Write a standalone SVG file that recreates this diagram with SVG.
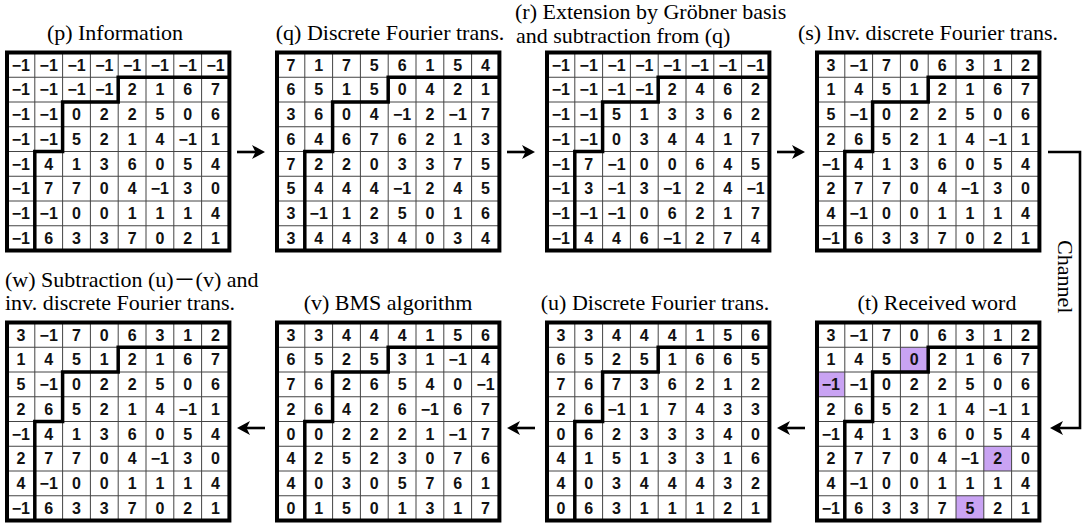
<svg xmlns="http://www.w3.org/2000/svg" xmlns:xlink="http://www.w3.org/1999/xlink" width="1086" height="527" viewBox="0 0 1086 527">
<style>
.title{font-family:"Liberation Serif","Noto Sans CJK JP",serif;font-size:22px;fill:#000}
.mid{text-anchor:middle}
.c{font-family:"Liberation Sans",Arial,sans-serif;font-weight:bold;font-size:16px;text-anchor:middle;fill:#111}
.thin{fill:none;stroke:#444;stroke-width:1}
.thick{fill:none;stroke:#000;stroke-width:3.5}
.hl{fill:#c9a3f3}
.arrow{fill:none;stroke:#000;stroke-width:2.6}
</style>
<defs>
<marker id="ah" markerUnits="userSpaceOnUse" markerWidth="15" markerHeight="15" refX="4" refY="7.5" orient="auto">
<path d="M0,0.5 L13,7.5 L0,14.5 L3.5,7.5 Z" fill="#000"/>
</marker>
<rect id="bg" x="0" y="0" width="222.4" height="198" fill="#fff"/>
<g id="lines">
<path class="thin" d="M27.8 0V198M55.6 0V198M83.4 0V198M111.2 0V198M139 0V198M166.8 0V198M194.6 0V198M0 24.75H222.4M0 49.5H222.4M0 74.25H222.4M0 99H222.4M0 123.75H222.4M0 148.5H222.4M0 173.25H222.4"/>
<path class="thick" d="M222.4 24.75H111.2V49.5H55.6V99H27.8V198"/>
<rect x="0" y="0" width="222.4" height="198" fill="none" stroke="#000" stroke-width="4"/>
</g>
</defs>
<rect x="0" y="0" width="1086" height="527" fill="#fff"/>

<g id="node-p">
<text class="title mid" x="115" y="40">(p) Information</text>
<g transform="translate(7,52.5)">
<use xlink:href="#bg"/><use xlink:href="#lines"/>
<g class="c">
<text y="18.2"><tspan x="13.9">−1</tspan><tspan x="41.7">−1</tspan><tspan x="69.5">−1</tspan><tspan x="97.3">−1</tspan><tspan x="125.1">−1</tspan><tspan x="152.9">−1</tspan><tspan x="180.7">−1</tspan><tspan x="208.5">−1</tspan></text>
<text y="42.9"><tspan x="13.9">−1</tspan><tspan x="41.7">−1</tspan><tspan x="69.5">−1</tspan><tspan x="97.3">−1</tspan><tspan x="125.1">2</tspan><tspan x="152.9">1</tspan><tspan x="180.7">6</tspan><tspan x="208.5">7</tspan></text>
<text y="67.7"><tspan x="13.9">−1</tspan><tspan x="41.7">−1</tspan><tspan x="69.5">0</tspan><tspan x="97.3">2</tspan><tspan x="125.1">2</tspan><tspan x="152.9">5</tspan><tspan x="180.7">0</tspan><tspan x="208.5">6</tspan></text>
<text y="92.5"><tspan x="13.9">−1</tspan><tspan x="41.7">−1</tspan><tspan x="69.5">5</tspan><tspan x="97.3">2</tspan><tspan x="125.1">1</tspan><tspan x="152.9">4</tspan><tspan x="180.7">−1</tspan><tspan x="208.5">1</tspan></text>
<text y="117.2"><tspan x="13.9">−1</tspan><tspan x="41.7">4</tspan><tspan x="69.5">1</tspan><tspan x="97.3">3</tspan><tspan x="125.1">6</tspan><tspan x="152.9">0</tspan><tspan x="180.7">5</tspan><tspan x="208.5">4</tspan></text>
<text y="141.9"><tspan x="13.9">−1</tspan><tspan x="41.7">7</tspan><tspan x="69.5">7</tspan><tspan x="97.3">0</tspan><tspan x="125.1">4</tspan><tspan x="152.9">−1</tspan><tspan x="180.7">3</tspan><tspan x="208.5">0</tspan></text>
<text y="166.7"><tspan x="13.9">−1</tspan><tspan x="41.7">−1</tspan><tspan x="69.5">0</tspan><tspan x="97.3">0</tspan><tspan x="125.1">1</tspan><tspan x="152.9">1</tspan><tspan x="180.7">1</tspan><tspan x="208.5">4</tspan></text>
<text y="191.4"><tspan x="13.9">−1</tspan><tspan x="41.7">6</tspan><tspan x="69.5">3</tspan><tspan x="97.3">3</tspan><tspan x="125.1">7</tspan><tspan x="152.9">0</tspan><tspan x="180.7">2</tspan><tspan x="208.5">1</tspan></text>
</g>
</g>
</g>

<g id="node-q">
<text class="title mid" x="390" y="40">(q) Discrete Fourier trans.</text>
<g transform="translate(277,52.5)">
<use xlink:href="#bg"/><use xlink:href="#lines"/>
<g class="c">
<text y="18.2"><tspan x="13.9">7</tspan><tspan x="41.7">1</tspan><tspan x="69.5">7</tspan><tspan x="97.3">5</tspan><tspan x="125.1">6</tspan><tspan x="152.9">1</tspan><tspan x="180.7">5</tspan><tspan x="208.5">4</tspan></text>
<text y="42.9"><tspan x="13.9">6</tspan><tspan x="41.7">5</tspan><tspan x="69.5">1</tspan><tspan x="97.3">5</tspan><tspan x="125.1">0</tspan><tspan x="152.9">4</tspan><tspan x="180.7">2</tspan><tspan x="208.5">1</tspan></text>
<text y="67.7"><tspan x="13.9">3</tspan><tspan x="41.7">6</tspan><tspan x="69.5">0</tspan><tspan x="97.3">4</tspan><tspan x="125.1">−1</tspan><tspan x="152.9">2</tspan><tspan x="180.7">−1</tspan><tspan x="208.5">7</tspan></text>
<text y="92.5"><tspan x="13.9">6</tspan><tspan x="41.7">4</tspan><tspan x="69.5">6</tspan><tspan x="97.3">7</tspan><tspan x="125.1">6</tspan><tspan x="152.9">2</tspan><tspan x="180.7">1</tspan><tspan x="208.5">3</tspan></text>
<text y="117.2"><tspan x="13.9">7</tspan><tspan x="41.7">2</tspan><tspan x="69.5">2</tspan><tspan x="97.3">0</tspan><tspan x="125.1">3</tspan><tspan x="152.9">3</tspan><tspan x="180.7">7</tspan><tspan x="208.5">5</tspan></text>
<text y="141.9"><tspan x="13.9">5</tspan><tspan x="41.7">4</tspan><tspan x="69.5">4</tspan><tspan x="97.3">4</tspan><tspan x="125.1">−1</tspan><tspan x="152.9">2</tspan><tspan x="180.7">4</tspan><tspan x="208.5">5</tspan></text>
<text y="166.7"><tspan x="13.9">3</tspan><tspan x="41.7">−1</tspan><tspan x="69.5">1</tspan><tspan x="97.3">2</tspan><tspan x="125.1">5</tspan><tspan x="152.9">0</tspan><tspan x="180.7">1</tspan><tspan x="208.5">6</tspan></text>
<text y="191.4"><tspan x="13.9">3</tspan><tspan x="41.7">4</tspan><tspan x="69.5">4</tspan><tspan x="97.3">3</tspan><tspan x="125.1">4</tspan><tspan x="152.9">0</tspan><tspan x="180.7">3</tspan><tspan x="208.5">4</tspan></text>
</g>
</g>
</g>

<g id="node-r">
<text class="title" font-size="21"><tspan x="515" y="19">(r) Extension by Gröbner basis</tspan><tspan x="516" y="42.5">and subtraction from (q)</tspan></text>
<g transform="translate(547,52.5)">
<use xlink:href="#bg"/><use xlink:href="#lines"/>
<g class="c">
<text y="18.2"><tspan x="13.9">−1</tspan><tspan x="41.7">−1</tspan><tspan x="69.5">−1</tspan><tspan x="97.3">−1</tspan><tspan x="125.1">−1</tspan><tspan x="152.9">−1</tspan><tspan x="180.7">−1</tspan><tspan x="208.5">−1</tspan></text>
<text y="42.9"><tspan x="13.9">−1</tspan><tspan x="41.7">−1</tspan><tspan x="69.5">−1</tspan><tspan x="97.3">−1</tspan><tspan x="125.1">2</tspan><tspan x="152.9">4</tspan><tspan x="180.7">6</tspan><tspan x="208.5">2</tspan></text>
<text y="67.7"><tspan x="13.9">−1</tspan><tspan x="41.7">−1</tspan><tspan x="69.5">5</tspan><tspan x="97.3">1</tspan><tspan x="125.1">3</tspan><tspan x="152.9">3</tspan><tspan x="180.7">6</tspan><tspan x="208.5">2</tspan></text>
<text y="92.5"><tspan x="13.9">−1</tspan><tspan x="41.7">−1</tspan><tspan x="69.5">0</tspan><tspan x="97.3">3</tspan><tspan x="125.1">4</tspan><tspan x="152.9">4</tspan><tspan x="180.7">1</tspan><tspan x="208.5">7</tspan></text>
<text y="117.2"><tspan x="13.9">−1</tspan><tspan x="41.7">7</tspan><tspan x="69.5">−1</tspan><tspan x="97.3">0</tspan><tspan x="125.1">0</tspan><tspan x="152.9">6</tspan><tspan x="180.7">4</tspan><tspan x="208.5">5</tspan></text>
<text y="141.9"><tspan x="13.9">−1</tspan><tspan x="41.7">3</tspan><tspan x="69.5">−1</tspan><tspan x="97.3">3</tspan><tspan x="125.1">−1</tspan><tspan x="152.9">2</tspan><tspan x="180.7">4</tspan><tspan x="208.5">−1</tspan></text>
<text y="166.7"><tspan x="13.9">−1</tspan><tspan x="41.7">−1</tspan><tspan x="69.5">−1</tspan><tspan x="97.3">0</tspan><tspan x="125.1">6</tspan><tspan x="152.9">2</tspan><tspan x="180.7">1</tspan><tspan x="208.5">7</tspan></text>
<text y="191.4"><tspan x="13.9">−1</tspan><tspan x="41.7">4</tspan><tspan x="69.5">4</tspan><tspan x="97.3">6</tspan><tspan x="125.1">−1</tspan><tspan x="152.9">2</tspan><tspan x="180.7">7</tspan><tspan x="208.5">4</tspan></text>
</g>
</g>
</g>

<g id="node-s">
<text class="title mid" x="928" y="40">(s) Inv. discrete Fourier trans.</text>
<g transform="translate(817,52.5)">
<use xlink:href="#bg"/><use xlink:href="#lines"/>
<g class="c">
<text y="18.2"><tspan x="13.9">3</tspan><tspan x="41.7">−1</tspan><tspan x="69.5">7</tspan><tspan x="97.3">0</tspan><tspan x="125.1">6</tspan><tspan x="152.9">3</tspan><tspan x="180.7">1</tspan><tspan x="208.5">2</tspan></text>
<text y="42.9"><tspan x="13.9">1</tspan><tspan x="41.7">4</tspan><tspan x="69.5">5</tspan><tspan x="97.3">1</tspan><tspan x="125.1">2</tspan><tspan x="152.9">1</tspan><tspan x="180.7">6</tspan><tspan x="208.5">7</tspan></text>
<text y="67.7"><tspan x="13.9">5</tspan><tspan x="41.7">−1</tspan><tspan x="69.5">0</tspan><tspan x="97.3">2</tspan><tspan x="125.1">2</tspan><tspan x="152.9">5</tspan><tspan x="180.7">0</tspan><tspan x="208.5">6</tspan></text>
<text y="92.5"><tspan x="13.9">2</tspan><tspan x="41.7">6</tspan><tspan x="69.5">5</tspan><tspan x="97.3">2</tspan><tspan x="125.1">1</tspan><tspan x="152.9">4</tspan><tspan x="180.7">−1</tspan><tspan x="208.5">1</tspan></text>
<text y="117.2"><tspan x="13.9">−1</tspan><tspan x="41.7">4</tspan><tspan x="69.5">1</tspan><tspan x="97.3">3</tspan><tspan x="125.1">6</tspan><tspan x="152.9">0</tspan><tspan x="180.7">5</tspan><tspan x="208.5">4</tspan></text>
<text y="141.9"><tspan x="13.9">2</tspan><tspan x="41.7">7</tspan><tspan x="69.5">7</tspan><tspan x="97.3">0</tspan><tspan x="125.1">4</tspan><tspan x="152.9">−1</tspan><tspan x="180.7">3</tspan><tspan x="208.5">0</tspan></text>
<text y="166.7"><tspan x="13.9">4</tspan><tspan x="41.7">−1</tspan><tspan x="69.5">0</tspan><tspan x="97.3">0</tspan><tspan x="125.1">1</tspan><tspan x="152.9">1</tspan><tspan x="180.7">1</tspan><tspan x="208.5">4</tspan></text>
<text y="191.4"><tspan x="13.9">−1</tspan><tspan x="41.7">6</tspan><tspan x="69.5">3</tspan><tspan x="97.3">3</tspan><tspan x="125.1">7</tspan><tspan x="152.9">0</tspan><tspan x="180.7">2</tspan><tspan x="208.5">1</tspan></text>
</g>
</g>
</g>

<g id="node-w">
<text class="title"><tspan x="5" y="287">(w) Subtraction (u)－(v) and</tspan><tspan x="5" y="310">inv. discrete Fourier trans.</tspan></text>
<g transform="translate(7,322.5)">
<use xlink:href="#bg"/><use xlink:href="#lines"/>
<g class="c">
<text y="18.2"><tspan x="13.9">3</tspan><tspan x="41.7">−1</tspan><tspan x="69.5">7</tspan><tspan x="97.3">0</tspan><tspan x="125.1">6</tspan><tspan x="152.9">3</tspan><tspan x="180.7">1</tspan><tspan x="208.5">2</tspan></text>
<text y="42.9"><tspan x="13.9">1</tspan><tspan x="41.7">4</tspan><tspan x="69.5">5</tspan><tspan x="97.3">1</tspan><tspan x="125.1">2</tspan><tspan x="152.9">1</tspan><tspan x="180.7">6</tspan><tspan x="208.5">7</tspan></text>
<text y="67.7"><tspan x="13.9">5</tspan><tspan x="41.7">−1</tspan><tspan x="69.5">0</tspan><tspan x="97.3">2</tspan><tspan x="125.1">2</tspan><tspan x="152.9">5</tspan><tspan x="180.7">0</tspan><tspan x="208.5">6</tspan></text>
<text y="92.5"><tspan x="13.9">2</tspan><tspan x="41.7">6</tspan><tspan x="69.5">5</tspan><tspan x="97.3">2</tspan><tspan x="125.1">1</tspan><tspan x="152.9">4</tspan><tspan x="180.7">−1</tspan><tspan x="208.5">1</tspan></text>
<text y="117.2"><tspan x="13.9">−1</tspan><tspan x="41.7">4</tspan><tspan x="69.5">1</tspan><tspan x="97.3">3</tspan><tspan x="125.1">6</tspan><tspan x="152.9">0</tspan><tspan x="180.7">5</tspan><tspan x="208.5">4</tspan></text>
<text y="141.9"><tspan x="13.9">2</tspan><tspan x="41.7">7</tspan><tspan x="69.5">7</tspan><tspan x="97.3">0</tspan><tspan x="125.1">4</tspan><tspan x="152.9">−1</tspan><tspan x="180.7">3</tspan><tspan x="208.5">0</tspan></text>
<text y="166.7"><tspan x="13.9">4</tspan><tspan x="41.7">−1</tspan><tspan x="69.5">0</tspan><tspan x="97.3">0</tspan><tspan x="125.1">1</tspan><tspan x="152.9">1</tspan><tspan x="180.7">1</tspan><tspan x="208.5">4</tspan></text>
<text y="191.4"><tspan x="13.9">−1</tspan><tspan x="41.7">6</tspan><tspan x="69.5">3</tspan><tspan x="97.3">3</tspan><tspan x="125.1">7</tspan><tspan x="152.9">0</tspan><tspan x="180.7">2</tspan><tspan x="208.5">1</tspan></text>
</g>
</g>
</g>

<g id="node-v">
<text class="title mid" x="388" y="310">(v) BMS algorithm</text>
<g transform="translate(277,322.5)">
<use xlink:href="#bg"/><use xlink:href="#lines"/>
<g class="c">
<text y="18.2"><tspan x="13.9">3</tspan><tspan x="41.7">3</tspan><tspan x="69.5">4</tspan><tspan x="97.3">4</tspan><tspan x="125.1">4</tspan><tspan x="152.9">1</tspan><tspan x="180.7">5</tspan><tspan x="208.5">6</tspan></text>
<text y="42.9"><tspan x="13.9">6</tspan><tspan x="41.7">5</tspan><tspan x="69.5">2</tspan><tspan x="97.3">5</tspan><tspan x="125.1">3</tspan><tspan x="152.9">1</tspan><tspan x="180.7">−1</tspan><tspan x="208.5">4</tspan></text>
<text y="67.7"><tspan x="13.9">7</tspan><tspan x="41.7">6</tspan><tspan x="69.5">2</tspan><tspan x="97.3">6</tspan><tspan x="125.1">5</tspan><tspan x="152.9">4</tspan><tspan x="180.7">0</tspan><tspan x="208.5">−1</tspan></text>
<text y="92.5"><tspan x="13.9">2</tspan><tspan x="41.7">6</tspan><tspan x="69.5">4</tspan><tspan x="97.3">2</tspan><tspan x="125.1">6</tspan><tspan x="152.9">−1</tspan><tspan x="180.7">6</tspan><tspan x="208.5">7</tspan></text>
<text y="117.2"><tspan x="13.9">0</tspan><tspan x="41.7">0</tspan><tspan x="69.5">2</tspan><tspan x="97.3">2</tspan><tspan x="125.1">2</tspan><tspan x="152.9">1</tspan><tspan x="180.7">−1</tspan><tspan x="208.5">7</tspan></text>
<text y="141.9"><tspan x="13.9">4</tspan><tspan x="41.7">2</tspan><tspan x="69.5">5</tspan><tspan x="97.3">2</tspan><tspan x="125.1">3</tspan><tspan x="152.9">0</tspan><tspan x="180.7">7</tspan><tspan x="208.5">6</tspan></text>
<text y="166.7"><tspan x="13.9">4</tspan><tspan x="41.7">0</tspan><tspan x="69.5">3</tspan><tspan x="97.3">0</tspan><tspan x="125.1">5</tspan><tspan x="152.9">7</tspan><tspan x="180.7">6</tspan><tspan x="208.5">1</tspan></text>
<text y="191.4"><tspan x="13.9">0</tspan><tspan x="41.7">1</tspan><tspan x="69.5">5</tspan><tspan x="97.3">0</tspan><tspan x="125.1">1</tspan><tspan x="152.9">3</tspan><tspan x="180.7">1</tspan><tspan x="208.5">7</tspan></text>
</g>
</g>
</g>

<g id="node-u">
<text class="title mid" x="655" y="310">(u) Discrete Fourier trans.</text>
<g transform="translate(547,322.5)">
<use xlink:href="#bg"/><use xlink:href="#lines"/>
<g class="c">
<text y="18.2"><tspan x="13.9">3</tspan><tspan x="41.7">3</tspan><tspan x="69.5">4</tspan><tspan x="97.3">4</tspan><tspan x="125.1">4</tspan><tspan x="152.9">1</tspan><tspan x="180.7">5</tspan><tspan x="208.5">6</tspan></text>
<text y="42.9"><tspan x="13.9">6</tspan><tspan x="41.7">5</tspan><tspan x="69.5">2</tspan><tspan x="97.3">5</tspan><tspan x="125.1">1</tspan><tspan x="152.9">6</tspan><tspan x="180.7">6</tspan><tspan x="208.5">5</tspan></text>
<text y="67.7"><tspan x="13.9">7</tspan><tspan x="41.7">6</tspan><tspan x="69.5">7</tspan><tspan x="97.3">3</tspan><tspan x="125.1">6</tspan><tspan x="152.9">2</tspan><tspan x="180.7">1</tspan><tspan x="208.5">2</tspan></text>
<text y="92.5"><tspan x="13.9">2</tspan><tspan x="41.7">6</tspan><tspan x="69.5">−1</tspan><tspan x="97.3">1</tspan><tspan x="125.1">7</tspan><tspan x="152.9">4</tspan><tspan x="180.7">3</tspan><tspan x="208.5">3</tspan></text>
<text y="117.2"><tspan x="13.9">0</tspan><tspan x="41.7">6</tspan><tspan x="69.5">2</tspan><tspan x="97.3">3</tspan><tspan x="125.1">3</tspan><tspan x="152.9">3</tspan><tspan x="180.7">4</tspan><tspan x="208.5">0</tspan></text>
<text y="141.9"><tspan x="13.9">4</tspan><tspan x="41.7">1</tspan><tspan x="69.5">5</tspan><tspan x="97.3">1</tspan><tspan x="125.1">3</tspan><tspan x="152.9">3</tspan><tspan x="180.7">1</tspan><tspan x="208.5">6</tspan></text>
<text y="166.7"><tspan x="13.9">4</tspan><tspan x="41.7">0</tspan><tspan x="69.5">3</tspan><tspan x="97.3">4</tspan><tspan x="125.1">4</tspan><tspan x="152.9">4</tspan><tspan x="180.7">3</tspan><tspan x="208.5">2</tspan></text>
<text y="191.4"><tspan x="13.9">0</tspan><tspan x="41.7">6</tspan><tspan x="69.5">3</tspan><tspan x="97.3">1</tspan><tspan x="125.1">1</tspan><tspan x="152.9">1</tspan><tspan x="180.7">2</tspan><tspan x="208.5">1</tspan></text>
</g>
</g>
</g>

<g id="node-t">
<text class="title mid" x="937" y="310">(t) Received word</text>
<g transform="translate(817,322.5)">
<use xlink:href="#bg"/>
<rect class="hl" x="83.4" y="24.75" width="27.8" height="24.75"/>
<rect class="hl" x="0" y="49.5" width="27.8" height="24.75"/>
<rect class="hl" x="166.8" y="123.75" width="27.8" height="24.75"/>
<rect class="hl" x="139" y="173.25" width="27.8" height="24.75"/>
<use xlink:href="#lines"/>
<g class="c">
<text y="18.2"><tspan x="13.9">3</tspan><tspan x="41.7">−1</tspan><tspan x="69.5">7</tspan><tspan x="97.3">0</tspan><tspan x="125.1">6</tspan><tspan x="152.9">3</tspan><tspan x="180.7">1</tspan><tspan x="208.5">2</tspan></text>
<text y="42.9"><tspan x="13.9">1</tspan><tspan x="41.7">4</tspan><tspan x="69.5">5</tspan><tspan x="97.3">0</tspan><tspan x="125.1">2</tspan><tspan x="152.9">1</tspan><tspan x="180.7">6</tspan><tspan x="208.5">7</tspan></text>
<text y="67.7"><tspan x="13.9">−1</tspan><tspan x="41.7">−1</tspan><tspan x="69.5">0</tspan><tspan x="97.3">2</tspan><tspan x="125.1">2</tspan><tspan x="152.9">5</tspan><tspan x="180.7">0</tspan><tspan x="208.5">6</tspan></text>
<text y="92.5"><tspan x="13.9">2</tspan><tspan x="41.7">6</tspan><tspan x="69.5">5</tspan><tspan x="97.3">2</tspan><tspan x="125.1">1</tspan><tspan x="152.9">4</tspan><tspan x="180.7">−1</tspan><tspan x="208.5">1</tspan></text>
<text y="117.2"><tspan x="13.9">−1</tspan><tspan x="41.7">4</tspan><tspan x="69.5">1</tspan><tspan x="97.3">3</tspan><tspan x="125.1">6</tspan><tspan x="152.9">0</tspan><tspan x="180.7">5</tspan><tspan x="208.5">4</tspan></text>
<text y="141.9"><tspan x="13.9">2</tspan><tspan x="41.7">7</tspan><tspan x="69.5">7</tspan><tspan x="97.3">0</tspan><tspan x="125.1">4</tspan><tspan x="152.9">−1</tspan><tspan x="180.7">2</tspan><tspan x="208.5">0</tspan></text>
<text y="166.7"><tspan x="13.9">4</tspan><tspan x="41.7">−1</tspan><tspan x="69.5">0</tspan><tspan x="97.3">0</tspan><tspan x="125.1">1</tspan><tspan x="152.9">1</tspan><tspan x="180.7">1</tspan><tspan x="208.5">4</tspan></text>
<text y="191.4"><tspan x="13.9">−1</tspan><tspan x="41.7">6</tspan><tspan x="69.5">3</tspan><tspan x="97.3">3</tspan><tspan x="125.1">7</tspan><tspan x="152.9">5</tspan><tspan x="180.7">2</tspan><tspan x="208.5">1</tspan></text>
</g>
</g>
</g>

<g id="connectors">
<path class="arrow" d="M237 152H256" marker-end="url(#ah)"/>
<path class="arrow" d="M507 152H526" marker-end="url(#ah)"/>
<path class="arrow" d="M777 152H796" marker-end="url(#ah)"/>
<path class="arrow" d="M1048 152H1080V428H1059" marker-end="url(#ah)"/>
<path class="arrow" d="M805 428H786" marker-end="url(#ah)"/>
<path class="arrow" d="M535 428H516" marker-end="url(#ah)"/>
<path class="arrow" d="M265 428H246" marker-end="url(#ah)"/>
<text class="title" transform="translate(1058,240) rotate(90)">Channel</text>
</g>
</svg>
